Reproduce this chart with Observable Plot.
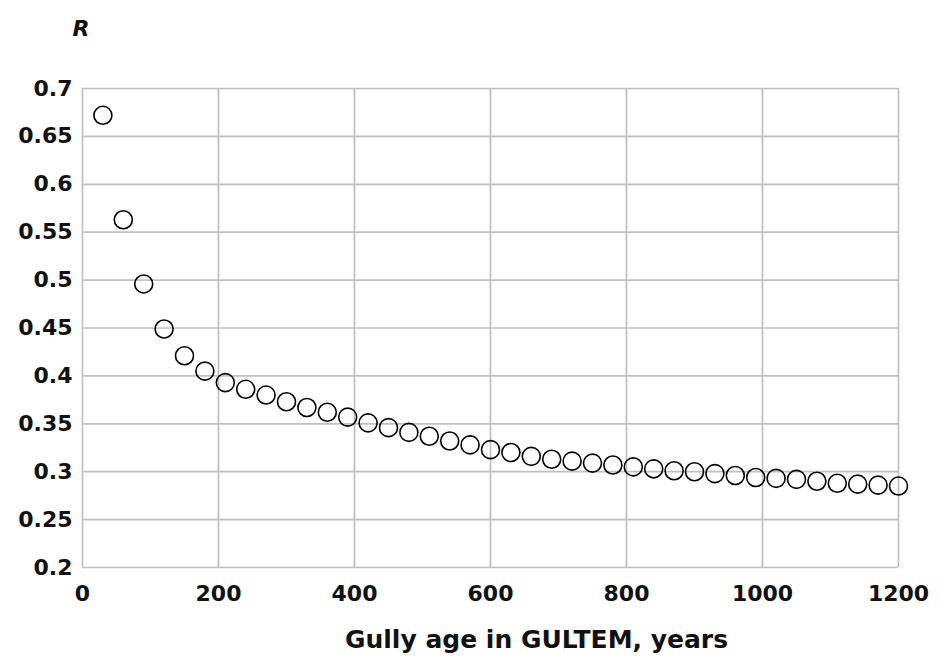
<!DOCTYPE html>
<html><head><meta charset="utf-8">
<script src="https://cdn.jsdelivr.net/npm/d3@7"></script>
<script src="https://cdn.jsdelivr.net/npm/@observablehq/plot@0.6"></script>
<style>html,body{margin:0;padding:0;background:#fff;}</style>
</head><body><div id="chart"></div>
<script>
const ages = [30,60,90,120,150,180,210,240,270,300,330,360,390,420,450,480,510,540,570,600,
  630,660,690,720,750,780,810,840,870,900,930,960,990,1020,1050,1080,1110,1140,1170,1200];
const rValues = [0.672,0.563,0.496,0.449,0.421,0.405,0.393,0.386,0.380,0.373,0.367,0.362,0.357,0.351,0.346,0.341,0.337,0.332,0.328,0.323,
  0.320,0.316,0.313,0.311,0.309,0.307,0.305,0.303,0.301,0.300,0.298,0.296,0.294,0.293,0.292,0.290,0.288,0.287,0.286,0.285];
const xTicks = [0,200,400,600,800,1000,1200];
const xTickLabels = ["0","200","400","600","800","1000","1200"];
const yTicks = [0.2,0.25,0.3,0.35,0.4,0.45,0.5,0.55,0.6,0.65,0.7];
const yTickLabels = ["0.2","0.25","0.3","0.35","0.4","0.45","0.5","0.55","0.6","0.65","0.7"];
const xTitle = "Gully age in GULTEM, years";
const yTitle = "R";

const data = ages.map((a, i) => ({age: a, r: rValues[i]}));
const gridStyle = {stroke: "#c0c0c0", strokeOpacity: 1, strokeWidth: 1.7};

const chart = Plot.plot({
  width: 946, height: 657,
  marginLeft: 82, marginRight: 48, marginTop: 88, marginBottom: 90,
  style: {fontFamily: "DejaVu Sans", fontWeight: "bold", fontSize: "22px", color: "#111", background: "#fff", overflow: "visible"},
  x: {domain: [0, 1200], ticks: xTicks, tickFormat: d => xTickLabels[xTicks.indexOf(d)], label: null, tickSize: 0, tickPadding: 18},
  y: {domain: [0.2, 0.7], ticks: yTicks, tickFormat: d => yTickLabels[yTicks.indexOf(d)], label: null, tickSize: 0, tickPadding: 10},
  marks: [
    Plot.gridX(xTicks, gridStyle),
    Plot.gridY(yTicks, gridStyle),
    Plot.dot(data, {x: "age", y: "r", r: 9, stroke: "#000", strokeWidth: 1.6, fill: "none"}),
    Plot.text([xTitle], {text: d => d, frameAnchor: "bottom", dx: 46, dy: 80, fontSize: 25, fontWeight: "bold", fill: "#111"}),
    Plot.text([yTitle], {text: d => d, frameAnchor: "top-left", dx: -10, dy: -68, fontSize: 22, fontStyle: "italic", fontWeight: "bold", fill: "#111"})
  ]
});
document.getElementById("chart").appendChild(chart);
</script>
</body></html>
